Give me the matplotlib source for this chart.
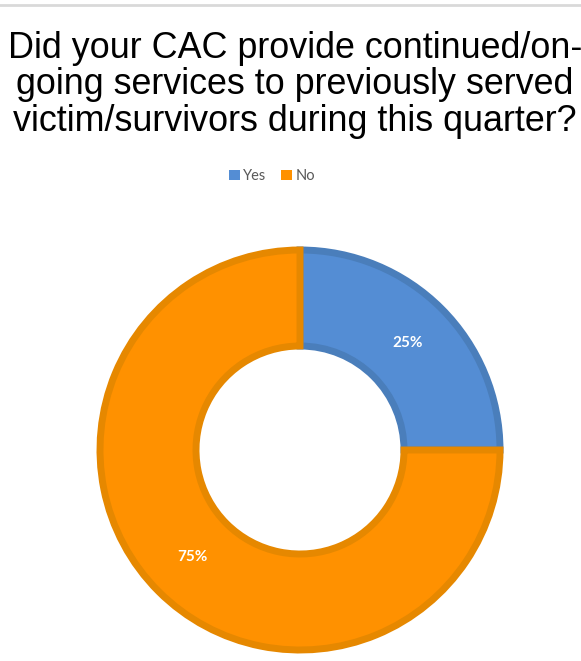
import matplotlib.pyplot as plt
from matplotlib.lines import Line2D
from matplotlib.patches import Rectangle

# answers and their shares
categories = ["Yes", "No"]
shares = [25, 75]
fill_colors = ["#548DD4", "#FF9100"]
edge_colors = ["#4A7EBB", "#E68800"]

title = ("Did your CAC provide continued/on-\n"
         "going services to previously served\n"
         "victim/survivors during this quarter?")

W, H = 581, 661
fig = plt.figure(figsize=(W / 100, H / 100), dpi=100)

# thin grey rule at the very top
fig.add_artist(Line2D([0, 1], [1 - 5 / H, 1 - 5 / H], color="#D9D9D9", lw=2,
                      transform=fig.transFigure))

fig.text(295 / W, 1 - 85 / H, title, ha="center", va="center",
         fontsize=25.8, family="Liberation Sans", color="black", linespacing=1.06)

# donut: centre at (300, 450) px, radius 1 -> 200 px
cx, cy, R = 300, 450, 200
span = 2.2
size = span * R
ax = fig.add_axes([(cx - size / 2) / W, (H - cy - size / 2) / H, size / W, size / H])
wedges, texts, autotexts = ax.pie(
    shares, colors=fill_colors, startangle=90, counterclock=False,
    radius=1, autopct="%d%%", pctdistance=0.76,
    wedgeprops=dict(width=0.48, linewidth=5),
    textprops=dict(color="white", fontsize=11, fontweight="bold", family="Lato"))
for w, ec in zip(wedges, edge_colors):
    w.set_edgecolor(ec)
ax.set_xlim(-span / 2, span / 2)
ax.set_ylim(-span / 2, span / 2)
ax.set_aspect("equal")
ax.axis("off")

# legend
handles = [Rectangle((0, 0), 1, 1, facecolor=c, edgecolor="none") for c in fill_colors]
fig.legend(handles, categories, loc="center", bbox_to_anchor=(272 / W, 1 - 176 / H),
           ncol=2, frameon=False, handlelength=0.75, handleheight=0.75,
           handletextpad=0.25, columnspacing=1.0,
           prop=dict(family="Lato", size=10.5), labelcolor="#595959")

fig.savefig("out.png", dpi=100)
